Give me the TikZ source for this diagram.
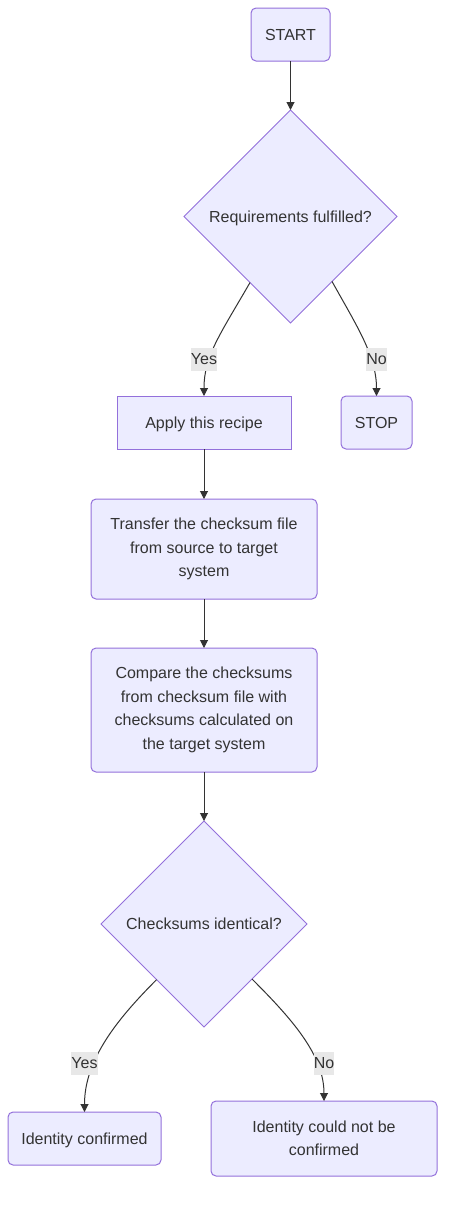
\documentclass[tikz,border=0pt]{standalone}
\usepackage{fontspec}
\setmainfont{Liberation Sans}
\usetikzlibrary{positioning,shapes.geometric,arrows.meta,calc}
\definecolor{nodefill}{HTML}{ECECFF}
\definecolor{nodeline}{HTML}{9370DB}
\definecolor{inkgray}{HTML}{333333}
\definecolor{labelbg}{HTML}{E8E8E8}

\begin{document}
\begin{tikzpicture}[x=1pt,y=1pt,font=\fontsize{16}{23.5}\selectfont,text=inkgray,
  box/.style={draw=nodeline,fill=nodefill,line width=1pt,align=center,inner sep=0pt,outer sep=0pt},
  oneline/.style={text height=11.5pt,text depth=0pt},
  rbox/.style={box,rounded corners=5pt},
  decision/.style={box,oneline,diamond,aspect=1},
  edge/.style={draw=inkgray,line width=1pt,-{Triangle[length=8pt,width=8pt]}},
  elabel/.style={fill=labelbg,inner xsep=0pt,inner ysep=0pt,outer sep=0pt,minimum height=23pt}]
\useasboundingbox (0,0) rectangle (453,-1205);
\node[rbox,oneline,minimum width=79pt,minimum height=53pt] (start) at (290.5,-34.5) {START};
\node[decision,minimum width=213pt,minimum height=213pt] (req) [below=49pt of start] {Requirements fulfilled?};
\node[box,oneline,minimum width=174pt,minimum height=53pt] (apply) [below=73pt of req,xshift=-86.5pt] {Apply this recipe};
\node[rbox,oneline,minimum width=71pt,minimum height=53pt] (stop)  [right=50pt of apply] {STOP};
\node[rbox,minimum width=226pt,minimum height=100pt] (transfer) [below=50pt of apply]
  {Transfer the checksum file\\from source to target\\system};
\node[rbox,minimum width=226pt,minimum height=124pt] (compare)  [below=49pt of transfer]
  {Compare the checksums\\from checksum file with\\checksums calculated on\\the target system};
\node[decision,minimum width=206pt,minimum height=206pt] (chk) [below=49pt of compare] {Checksums identical?};
\node[rbox,oneline,minimum width=153pt,minimum height=53pt] (idok) [below=85pt of chk,xshift=-119.5pt] {Identity confirmed};
\node[rbox,minimum width=226pt,minimum height=75pt] (idfail) [right=50pt of idok] {Identity could not be\\confirmed};

\coordinate (reqyes) at ($(req.west)!0.62!(req.south)$);
\coordinate (reqno)  at ($(req.east)!0.61!(req.south)$);
\coordinate (chkyes) at ($(chk.west)!0.54!(chk.south)$);
\coordinate (chkno)  at ($(chk.east)!0.534!(chk.south)$);

\draw[edge] (start.south) -- (req.north);
\draw[edge] (reqyes) .. controls +(-30,-52) and +(0,40) .. (apply.north);
\draw[edge] (reqno) .. controls +(25,-45) and +(0,40) .. (stop.north);
\draw[edge] (apply.south) -- (transfer.north);
\draw[edge] (transfer.south) -- (compare.north);
\draw[edge] (compare.south) -- (chk.north);
\draw[edge] (chkyes) .. controls +(-40,-40) and +(0,52) .. (idok.north);
\draw[edge] (chkno) .. controls +(40,-40) and +(0,46) .. (idfail.north);

\node[elabel,above=25pt of apply]  (yes1) {Yes};
\node[elabel,above=25pt of stop]   (no1)  {No};
\node[elabel,above=37pt of idok]   (yes2) {Yes};
\node[elabel,above=26pt of idfail] (no2)  {No};
\end{tikzpicture}
\end{document}
